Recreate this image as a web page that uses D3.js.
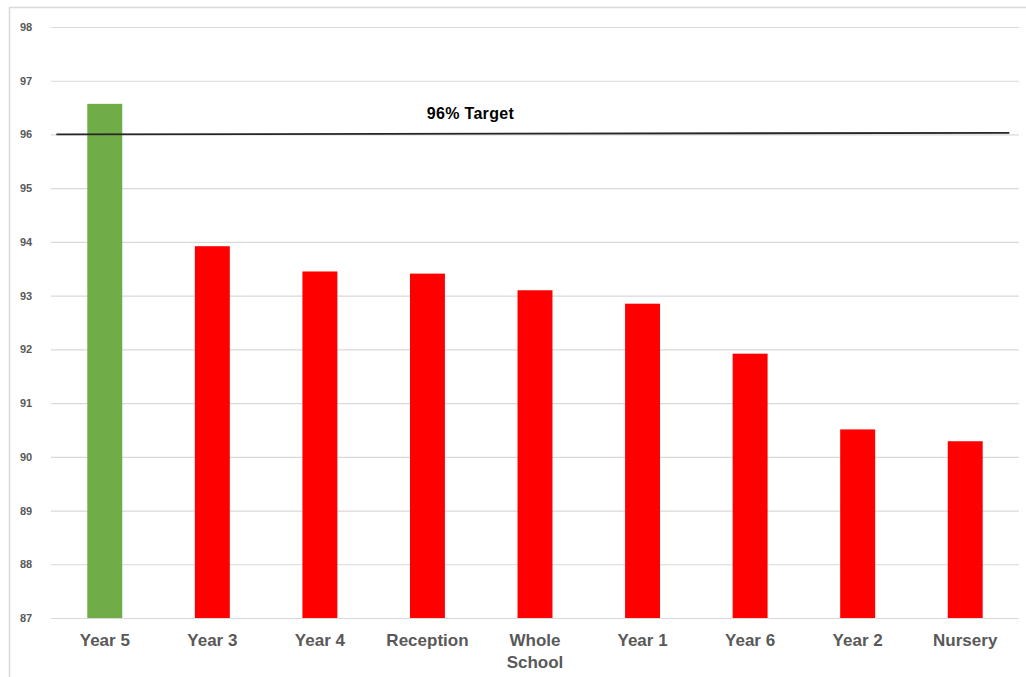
<!DOCTYPE html>
<html>
<head>
<meta charset="utf-8">
<script src="https://cdn.jsdelivr.net/npm/d3@7"></script>
<style>
  body { margin: 0; background: #fff; }
  svg { display: block; }
</style>
</head>
<body>
<div id="chart"></div>
<script>
const categories = ["Year 5", "Year 3", "Year 4", "Reception", "Whole School", "Year 1", "Year 6", "Year 2", "Nursery"];
const attendance = [96.57, 93.92, 93.45, 93.41, 93.1, 92.85, 91.92, 90.51, 90.29];
const yTicks = [87, 88, 89, 90, 91, 92, 93, 94, 95, 96, 97, 98];
// target line end points, in category units along the x range
const targetPos = [0.05, 8.91];
const targetVal = [96, 96.03];
const targetLabel = "96% Target";

const W = 1026, H = 677;
const margin = {top: 27, right: 7, bottom: 59, left: 51};
const width = W - margin.left - margin.right;
const height = H - margin.top - margin.bottom;

const svg = d3.select("#chart")
    .append("svg")
    .attr("width", W)
    .attr("height", H);

// outer frame
svg.append("rect")
    .attr("x", 9.5)
    .attr("y", 7.5)
    .attr("width", W + 10)
    .attr("height", H + 10)
    .attr("fill", "none")
    .attr("stroke", "#d9d9d9")
    .attr("stroke-width", 1.5);

const g = svg.append("g")
    .attr("transform", `translate(${margin.left},${margin.top})`);

const x = d3.scaleBand()
    .domain(categories)
    .range([0, width])
    .paddingInner(0.675)
    .paddingOuter(0.3375);

const xPos = d3.scaleLinear()
    .domain([0, categories.length])
    .range([0, width]);

const y = d3.scaleLinear()
    .domain([87, 98])
    .range([height, 0]);

// gridlines
g.append("g")
    .call(d3.axisLeft(y).tickValues(yTicks).tickSize(-width).tickFormat(""))
    .call(a => a.select(".domain").remove())
    .call(a => a.selectAll("line").attr("stroke", "#d9d9d9").attr("stroke-width", 1.2));

// y tick labels
g.append("g")
    .call(d3.axisLeft(y).tickValues(yTicks).tickSize(0).tickPadding(20).tickFormat(d3.format("d")))
    .call(a => a.select(".domain").remove())
    .call(a => a.selectAll("text")
        .attr("fill", "#595959")
        .attr("font-family", "Liberation Sans, Arial, sans-serif")
        .attr("font-size", "11px")
        .attr("font-weight", 700)
        .attr("text-anchor", "start")
        .attr("x", -31));

// bars
g.selectAll(".bar")
    .data(categories)
    .join("rect")
    .attr("class", "bar")
    .attr("x", d => x(d))
    .attr("width", x.bandwidth())
    .attr("y", (d, i) => y(attendance[i]))
    .attr("height", (d, i) => height - y(attendance[i]))
    .attr("fill", (d, i) => attendance[i] >= targetVal[0] ? "#70ad47" : "#ff0000");

// x axis labels
const xAxis = g.append("g")
    .attr("transform", `translate(0,${height})`)
    .call(d3.axisBottom(x).tickSize(0).tickPadding(16))
    .call(a => a.select(".domain").remove());

xAxis.selectAll("text")
    .attr("fill", "#595959")
    .attr("font-family", "Liberation Sans, Arial, sans-serif")
    .attr("font-size", "17px")
    .attr("font-weight", 700)
    .each(function(d) {
        const words = d.split(" ");
        if (d === "Whole School") {
            const t = d3.select(this).text(null);
            t.append("tspan").attr("x", 0).attr("dy", "0.71em").text(words[0]);
            t.append("tspan").attr("x", 0).attr("dy", "1.3em").text(words[1]);
        }
    });

// target line
const line = d3.line()
    .x((d, i) => xPos(targetPos[i]))
    .y(d => y(d));

g.append("path")
    .datum(targetVal)
    .attr("fill", "none")
    .attr("stroke", "#262626")
    .attr("stroke-width", 1.8)
    .attr("d", line);

g.append("text")
    .attr("x", xPos(3.9))
    .attr("y", y(targetVal[0]) - 15)
    .attr("text-anchor", "middle")
    .attr("fill", "#000")
    .attr("font-family", "Liberation Sans, Arial, sans-serif")
    .attr("font-size", "16px")
    .attr("font-weight", 700)
    .attr("letter-spacing", "0.3px")
    .text(targetLabel);
</script>
</body>
</html>
